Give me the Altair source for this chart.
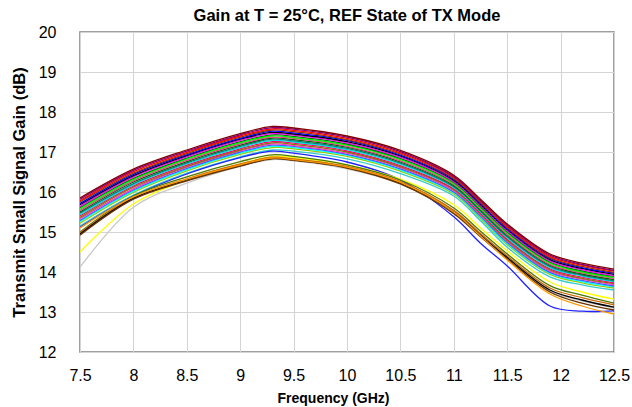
import altair as alt
import pandas as pd

freqs = [7.5, 8.0, 8.5, 9.0, 9.3, 9.5, 10.0, 10.5, 11.0, 11.25, 11.5, 11.9, 12.2, 12.5]

# lower cluster and outliers
gray_l    = [14.12, 15.62, 16.22, 16.64, 16.81, 16.78, 16.58, 16.20, 15.48, 14.90, 14.34, 13.52, 13.28, 13.10]
yellow_l  = [14.50, 15.70, 16.30, 16.70, 16.89, 16.86, 16.68, 16.32, 15.68, 15.10, 14.53, 13.75, 13.50, 13.32]
orange_l  = [15.10, 15.88, 16.32, 16.68, 16.85, 16.81, 16.62, 16.24, 15.50, 14.90, 14.30, 13.45, 13.15, 12.95]
brown_l   = [14.92, 15.82, 16.28, 16.65, 16.83, 16.79, 16.60, 16.20, 15.46, 14.88, 14.32, 13.50, 13.22, 13.05]
black_l   = [14.95, 15.84, 16.30, 16.66, 16.84, 16.80, 16.61, 16.22, 15.50, 14.92, 14.36, 13.55, 13.30, 13.12]
dorange_l = [14.98, 15.86, 16.33, 16.70, 16.87, 16.83, 16.64, 16.26, 15.54, 14.96, 14.40, 13.60, 13.36, 13.18]
olive_l   = [15.00, 15.90, 16.38, 16.76, 16.93, 16.89, 16.68, 16.30, 15.60, 15.02, 14.45, 13.66, 13.42, 13.22]
blue_out  = [15.12, 15.90, 16.45, 16.86, 17.02, 16.97, 16.75, 16.30, 15.38, 14.72, 14.15, 13.15, 13.02, 13.03]

# main cluster, bottom to top
m20 = [15.15, 15.92, 16.47, 16.88, 17.05, 17.02, 16.83, 16.46, 15.90, 15.28, 14.62, 13.88, 13.68, 13.55]
m19 = [15.22, 15.99, 16.53, 16.94, 17.11, 17.08, 16.89, 16.52, 15.95, 15.33, 14.68, 13.94, 13.73, 13.60]
m18 = [15.26, 16.02, 16.56, 16.97, 17.14, 17.11, 16.92, 16.55, 15.98, 15.36, 14.71, 13.97, 13.76, 13.63]
m17 = [15.29, 16.05, 16.59, 17.00, 17.17, 17.14, 16.94, 16.58, 16.00, 15.39, 14.74, 13.99, 13.79, 13.65]
m16 = [15.33, 16.08, 16.62, 17.03, 17.20, 17.16, 16.97, 16.61, 16.03, 15.42, 14.77, 14.02, 13.82, 13.68]
m15 = [15.36, 16.12, 16.64, 17.05, 17.23, 17.19, 17.00, 16.63, 16.06, 15.44, 14.79, 14.05, 13.84, 13.71]
m14 = [15.40, 16.15, 16.67, 17.08, 17.26, 17.22, 17.03, 16.66, 16.08, 15.47, 14.82, 14.08, 13.87, 13.73]
m13 = [15.43, 16.18, 16.70, 17.11, 17.29, 17.25, 17.06, 16.69, 16.11, 15.50, 14.85, 14.11, 13.90, 13.76]
m12 = [15.47, 16.21, 16.73, 17.14, 17.32, 17.28, 17.09, 16.72, 16.13, 15.52, 14.88, 14.14, 13.92, 13.78]
m11 = [15.50, 16.25, 16.76, 17.17, 17.35, 17.31, 17.12, 16.75, 16.16, 15.55, 14.91, 14.17, 13.95, 13.81]
m10 = [15.54, 16.28, 16.79, 17.20, 17.37, 17.34, 17.14, 16.78, 16.19, 15.58, 14.94, 14.19, 13.98, 13.84]
m09 = [15.57, 16.31, 16.82, 17.23, 17.40, 17.36, 17.17, 16.81, 16.21, 15.60, 14.97, 14.22, 14.00, 13.86]
m08 = [15.61, 16.34, 16.85, 17.26, 17.43, 17.39, 17.20, 16.84, 16.24, 15.63, 15.00, 14.25, 14.03, 13.89]
m07 = [15.64, 16.38, 16.88, 17.29, 17.46, 17.42, 17.23, 16.87, 16.26, 15.66, 15.03, 14.28, 14.06, 13.91]
m06 = [15.68, 16.41, 16.91, 17.32, 17.49, 17.45, 17.26, 16.90, 16.29, 15.69, 15.06, 14.31, 14.09, 13.94]
m05 = [15.71, 16.44, 16.93, 17.34, 17.52, 17.48, 17.29, 16.92, 16.32, 15.71, 15.08, 14.34, 14.11, 13.97]
m04 = [15.75, 16.47, 16.96, 17.37, 17.55, 17.51, 17.31, 16.95, 16.34, 15.74, 15.11, 14.36, 14.14, 13.99]
m03 = [15.78, 16.51, 16.99, 17.40, 17.58, 17.54, 17.34, 16.98, 16.37, 15.77, 15.14, 14.39, 14.17, 14.02]
m02 = [15.82, 16.54, 17.02, 17.43, 17.61, 17.57, 17.37, 17.01, 16.39, 15.79, 15.17, 14.42, 14.19, 14.04]
m01 = [15.85, 16.57, 17.05, 17.46, 17.64, 17.60, 17.40, 17.04, 16.42, 15.82, 15.20, 14.45, 14.22, 14.07]

series = [
    ("gray_l", gray_l, "#c8c8c8"),
    ("m20", m20, "#33cccc"),
    ("m19", m19, "#99cc00"),
    ("m18", m18, "#00ffff"),
    ("m17", m17, "#3366ff"),
    ("m16", m16, "#ff33cc"),
    ("m15", m15, "#808000"),
    ("m14", m14, "#ff0066"),
    ("m13", m13, "#00e0e0"),
    ("m12", m12, "#008080"),
    ("m11", m11, "#006600"),
    ("m10", m10, "#ff3399"),
    ("m09", m09, "#00ff00"),
    ("m08", m08, "#008000"),
    ("m07", m07, "#ff00ff"),
    ("m06", m06, "#000000"),
    ("m05", m05, "#0000ff"),
    ("m04", m04, "#993300"),
    ("m03", m03, "#ff0000"),
    ("m02", m02, "#800080"),
    ("m01", m01, "#800000"),
    ("blue_out", blue_out, "#2222ff"),
    ("yellow_l", yellow_l, "#ffff00"),
    ("olive_l", olive_l, "#4d7a00"),
    ("dorange_l", dorange_l, "#cc6600"),
    ("black_l", black_l, "#000000"),
    ("brown_l", brown_l, "#663300"),
    ("orange_l", orange_l, "#ff9900"),
]

rows = []
for i, (name, vals, col) in enumerate(series):
    for f, v in zip(freqs, vals):
        rows.append({"curve": name, "order": i, "freq": f, "gain": v})
df = pd.DataFrame(rows)

names = [s[0] for s in series]
colors = [s[2] for s in series]

font = "Liberation Sans"
x_ticks = [7.5, 8, 8.5, 9, 9.5, 10, 10.5, 11, 11.5, 12, 12.5]
y_ticks = [12, 13, 14, 15, 16, 17, 18, 19, 20]

chart = alt.Chart(df).mark_line(
    interpolate="catmull-rom", strokeWidth=1.3, clip=True
).encode(
    x=alt.X("freq:Q",
            scale=alt.Scale(domain=[7.5, 12.5], nice=False, zero=False),
            axis=alt.Axis(title="Frequency (GHz)", values=x_ticks, format="~g",
                          ticks=False, labelPadding=15, titlePadding=8,
                          titleX=253, titleAlign="center",
                          labelFlush=False, domain=False,
                          labelFont=font, labelFontSize=16, labelColor="#000",
                          titleFont=font, titleFontSize=14, titleFontWeight="bold",
                          titleColor="#000", gridColor="#d4d4d4")),
    y=alt.Y("gain:Q",
            scale=alt.Scale(domain=[12, 20], nice=False, zero=False),
            axis=alt.Axis(title="Transmit Small Signal Gain (dB)", values=y_ticks,
                          ticks=False, labelPadding=24, titlePadding=11,
                          labelFlush=False, domain=False,
                          labelFont=font, labelFontSize=16, labelColor="#000",
                          titleFont=font, titleFontSize=16.5, titleFontWeight="bold",
                          titleColor="#000", gridColor="#d4d4d4")),
    color=alt.Color("curve:N", scale=alt.Scale(domain=names, range=colors), legend=None),
    detail="curve:N",
    order=alt.Order("order:Q"),
).properties(
    width=534,
    height=320,
    background="white",
    title=alt.TitleParams("Gain at T = 25°C, REF State of TX Mode",
                          fontSize=16.5, font=font, fontWeight="bold",
                          anchor="middle", offset=0, color="#000"),
    autosize=alt.AutoSizeParams(type="none"),
    padding={"left": 80, "top": 32, "right": 18, "bottom": 55},
).configure_view(
    stroke="#808080", strokeWidth=1.5
)

chart.save("out.html", embed_options={"renderer": "svg", "actions": False})
